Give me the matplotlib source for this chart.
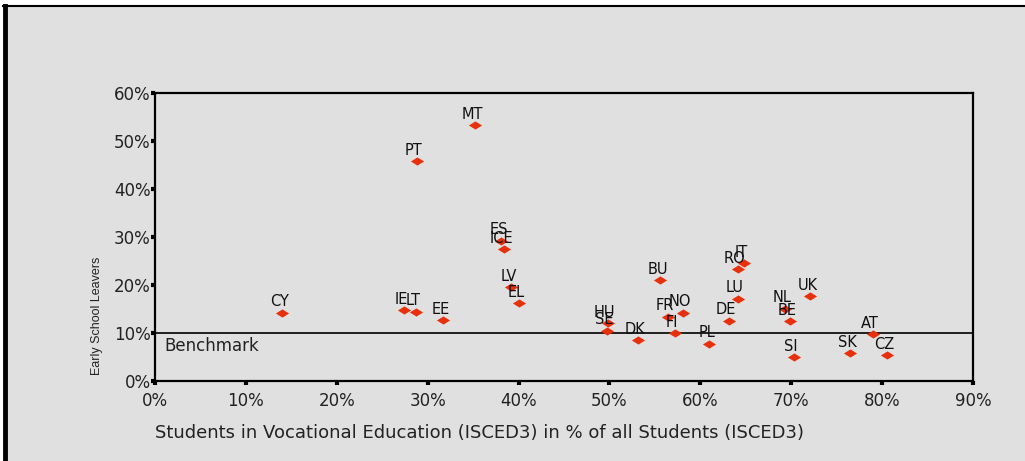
import matplotlib
matplotlib.use("Agg")
import matplotlib.pyplot as plt
from matplotlib.ticker import PercentFormatter, MultipleLocator
from matplotlib.path import Path
from matplotlib.patches import Rectangle
from matplotlib.lines import Line2D

countries = ['CY', 'IE', 'LT', 'EE', 'PT', 'MT', 'ES', 'ICE', 'LV', 'EL', 'HU', 'SE', 'DK', 'BU',
             'FR', 'NO', 'FI', 'PL', 'DE', 'LU', 'RO', 'IT', 'NL', 'BE', 'UK', 'SI', 'SK', 'AT', 'CZ']
vocational = [14.0, 27.4, 28.7, 31.7, 28.8, 35.2, 38.1, 38.4, 39.2, 40.1, 49.8, 49.7, 53.1, 55.6,
              56.4, 58.1, 57.2, 61.0, 63.1, 64.1, 64.1, 64.8, 69.3, 69.9, 72.1, 70.3, 76.5, 79.0, 80.5]
early_leavers = [14.2, 14.7, 14.4, 12.7, 45.8, 53.3, 29.2, 27.4, 19.5, 16.2, 12.0, 10.5, 8.5, 21.0,
                 13.4, 14.2, 9.9, 7.8, 12.6, 17.1, 23.3, 24.5, 15.1, 12.5, 17.7, 5.0, 5.8, 9.7, 5.4]
benchmark = 10.0
benchmark_label = 'Benchmark'

W, H = 1025, 461
fig = plt.figure(figsize=(W / 100, H / 100), dpi=100, facecolor='white')
bg = '#e0e0e0'
fig.patches.append(Rectangle((7 / W, 0), 1 - 7 / W, 1 - 6 / H, transform=fig.transFigure,
                             facecolor=bg, edgecolor='none', zorder=-10))
fig.lines.append(Line2D([3 / W, 1], [1 - 6 / H, 1 - 6 / H], transform=fig.transFigure,
                        color='black', lw=1.5))
fig.lines.append(Line2D([5 / W, 5 / W], [0, 1 - 6 / H], transform=fig.transFigure,
                        color='black', lw=3.5))

ax = fig.add_axes([155 / W, 1 - 381 / H, (973 - 155) / W, (381 - 93) / H])
ax.set_facecolor(bg)

diamond = Path([(-1, 0), (0, 0.62), (1, 0), (0, -0.62), (-1, 0)],
               [Path.MOVETO, Path.LINETO, Path.LINETO, Path.LINETO, Path.CLOSEPOLY])
ax.scatter(vocational, early_leavers, marker=diamond, s=90, color='#e8300c', zorder=3,
           linewidths=0)
for c, xv, yv in zip(countries, vocational, early_leavers):
    ax.annotate(c, (xv, yv), xytext=(-2, 2.5), textcoords='offset points', ha='center',
                va='bottom', fontsize=10.5, color='#111111', zorder=4)

ax.axhline(benchmark, color='black', lw=1.2, zorder=2)
ax.text(1.0, benchmark - 0.8, benchmark_label, ha='left', va='top', fontsize=12,
        color='#222222')

ax.set_xlim(0, 90)
ax.set_ylim(0, 60)
ax.xaxis.set_major_locator(MultipleLocator(10))
ax.yaxis.set_major_locator(MultipleLocator(10))
ax.xaxis.set_major_formatter(PercentFormatter(100, decimals=0))
ax.yaxis.set_major_formatter(PercentFormatter(100, decimals=0))
for s in ax.spines.values():
    s.set_color('black')
    s.set_linewidth(1.6)
ax.tick_params(axis='both', direction='out', length=3, width=3, color='black',
               labelsize=12, labelcolor='#222222')
ax.tick_params(axis='y', pad=0)
ax.tick_params(axis='x', pad=5)

ax.set_xlabel('Students in Vocational Education (ISCED3) in % of all Students (ISCED3)',
              fontsize=13, color='#222222', loc='left', va='top')
ax.xaxis.set_label_coords(0, -0.148)
fig.text(97 / W, 1 - 316 / H, 'Early School Leavers', rotation=90, ha='center', va='center',
         fontsize=9, family=['Liberation Sans', 'DejaVu Sans'], color='#222222')

fig.savefig('out.png', dpi=100, facecolor='white')
